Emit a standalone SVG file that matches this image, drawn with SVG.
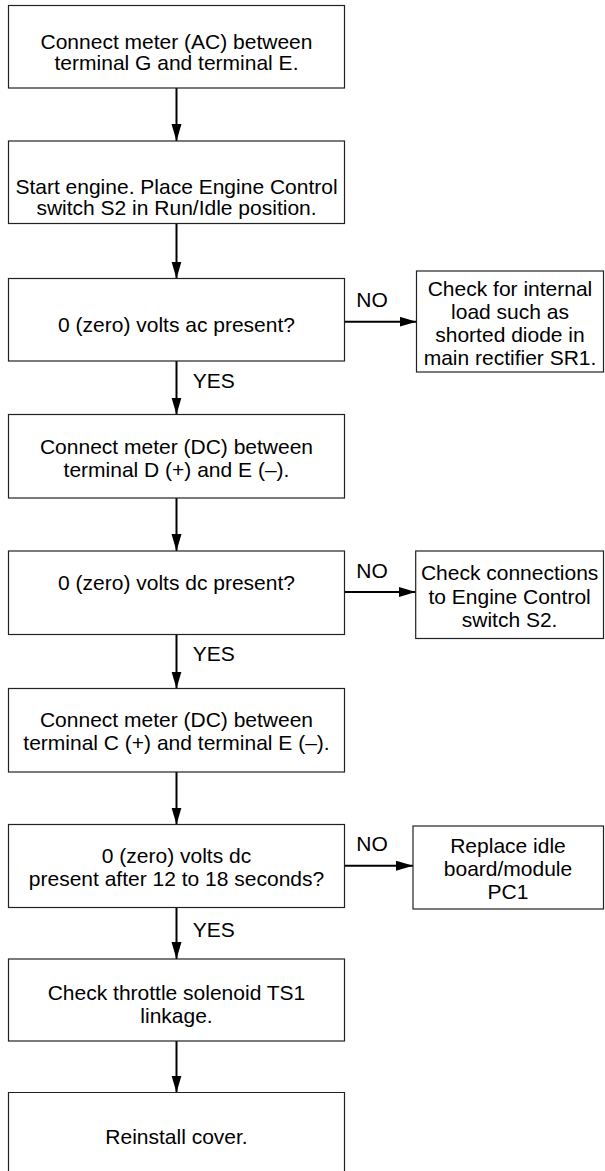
<svg xmlns="http://www.w3.org/2000/svg" width="605" height="1171" viewBox="0 0 605 1171">
<style>
.box{fill:#fff;stroke:#222;stroke-width:1.2}
.t{font-family:"Liberation Sans",Arial,sans-serif;font-size:21px;fill:#000;text-anchor:middle}
.l{font-family:"Liberation Sans",Arial,sans-serif;font-size:21px;fill:#000}
.c{stroke:#000;stroke-width:2;fill:none;marker-end:url(#ah)}
</style>
<defs>
<marker id="ah" markerUnits="userSpaceOnUse" markerWidth="18" markerHeight="11" refX="17" refY="5" orient="auto">
<path d="M0,0 L17,5 L0,10 z" fill="#000"/>
</marker>
</defs>
<rect width="605" height="1171" fill="#fff"/>
<g id="connectors">
<line class="c" x1="176.5" y1="88" x2="176.5" y2="141"/>
<line class="c" x1="176.5" y1="223.5" x2="176.5" y2="278.5"/>
<line class="c" x1="176.5" y1="361" x2="176.5" y2="414.5"/>
<line class="c" x1="176.5" y1="498" x2="176.5" y2="551"/>
<line class="c" x1="176.5" y1="634.5" x2="176.5" y2="688.5"/>
<line class="c" x1="176.5" y1="772" x2="176.5" y2="824.5"/>
<line class="c" x1="176.5" y1="907.5" x2="176.5" y2="959"/>
<line class="c" x1="176.5" y1="1041" x2="176.5" y2="1092.5"/>
<line class="c" x1="344.5" y1="321.7" x2="416.5" y2="321.7"/>
<line class="c" x1="344.5" y1="592" x2="415.7" y2="592"/>
<line class="c" x1="344.5" y1="865.7" x2="413" y2="865.7"/>
<text class="l" x="192.7" y="388">YES</text>
<text class="l" x="192.7" y="661">YES</text>
<text class="l" x="192.7" y="937">YES</text>
<text class="t" x="372" y="307">NO</text>
<text class="t" x="372" y="578">NO</text>
<text class="t" x="372" y="851">NO</text>
</g>
<g id="n1">
<rect class="box" x="8.5" y="5.5" width="336" height="82.5"/>
<text class="t" x="176.5" y="49">Connect meter (AC) between</text>
<text class="t" x="176.5" y="70">terminal G and terminal E.</text>
</g>
<g id="n2">
<rect class="box" x="8.5" y="141" width="336" height="82.5"/>
<text class="t" x="176.5" y="194">Start engine. Place Engine Control</text>
<text class="t" x="176.5" y="215">switch S2 in Run/Idle position.</text>
</g>
<g id="n3">
<rect class="box" x="8.5" y="278.5" width="336" height="82.5"/>
<text class="t" x="176.5" y="332">0 (zero) volts ac present?</text>
</g>
<g id="s1">
<rect class="box" x="416.5" y="271" width="187" height="101"/>
<text class="t" x="510" y="296">Check for internal</text>
<text class="t" x="510" y="319">load such as</text>
<text class="t" x="510" y="342">shorted diode in</text>
<text class="t" x="510" y="365">main rectifier SR1.</text>
</g>
<g id="n4">
<rect class="box" x="8.5" y="414.5" width="336" height="83.5"/>
<text class="t" x="176.5" y="454">Connect meter (DC) between</text>
<text class="t" x="176.5" y="477">terminal D (+) and E (–).</text>
</g>
<g id="n5">
<rect class="box" x="8.5" y="551" width="336" height="83.5"/>
<text class="t" x="176.5" y="590">0 (zero) volts dc present?</text>
</g>
<g id="s2">
<rect class="box" x="415.7" y="551" width="187.8" height="87.5"/>
<text class="t" x="509.6" y="580">Check connections</text>
<text class="t" x="509.6" y="603.5">to Engine Control</text>
<text class="t" x="509.6" y="627">switch S2.</text>
</g>
<g id="n6">
<rect class="box" x="8.5" y="688.5" width="336" height="83.5"/>
<text class="t" x="176.5" y="727">Connect meter (DC) between</text>
<text class="t" x="176.5" y="750">terminal C (+) and terminal E (–).</text>
</g>
<g id="n7">
<rect class="box" x="8.5" y="824.5" width="336" height="83"/>
<text class="t" x="176.5" y="863">0 (zero) volts dc</text>
<text class="t" x="176.5" y="885.5">present after 12 to 18 seconds?</text>
</g>
<g id="s3">
<rect class="box" x="413" y="826" width="190.5" height="83"/>
<text class="t" x="508" y="853">Replace idle</text>
<text class="t" x="508" y="875.5">board/module</text>
<text class="t" x="508" y="898.5">PC1</text>
</g>
<g id="n8">
<rect class="box" x="8.5" y="959" width="336" height="82"/>
<text class="t" x="176.5" y="1000">Check throttle solenoid TS1</text>
<text class="t" x="176.5" y="1023">linkage.</text>
</g>
<g id="n9">
<path class="box" d="M8.5,1172 V1092.5 H344.5 V1172" fill="#fff"/>
<text class="t" x="176.5" y="1144">Reinstall cover.</text>
</g>
</svg>
